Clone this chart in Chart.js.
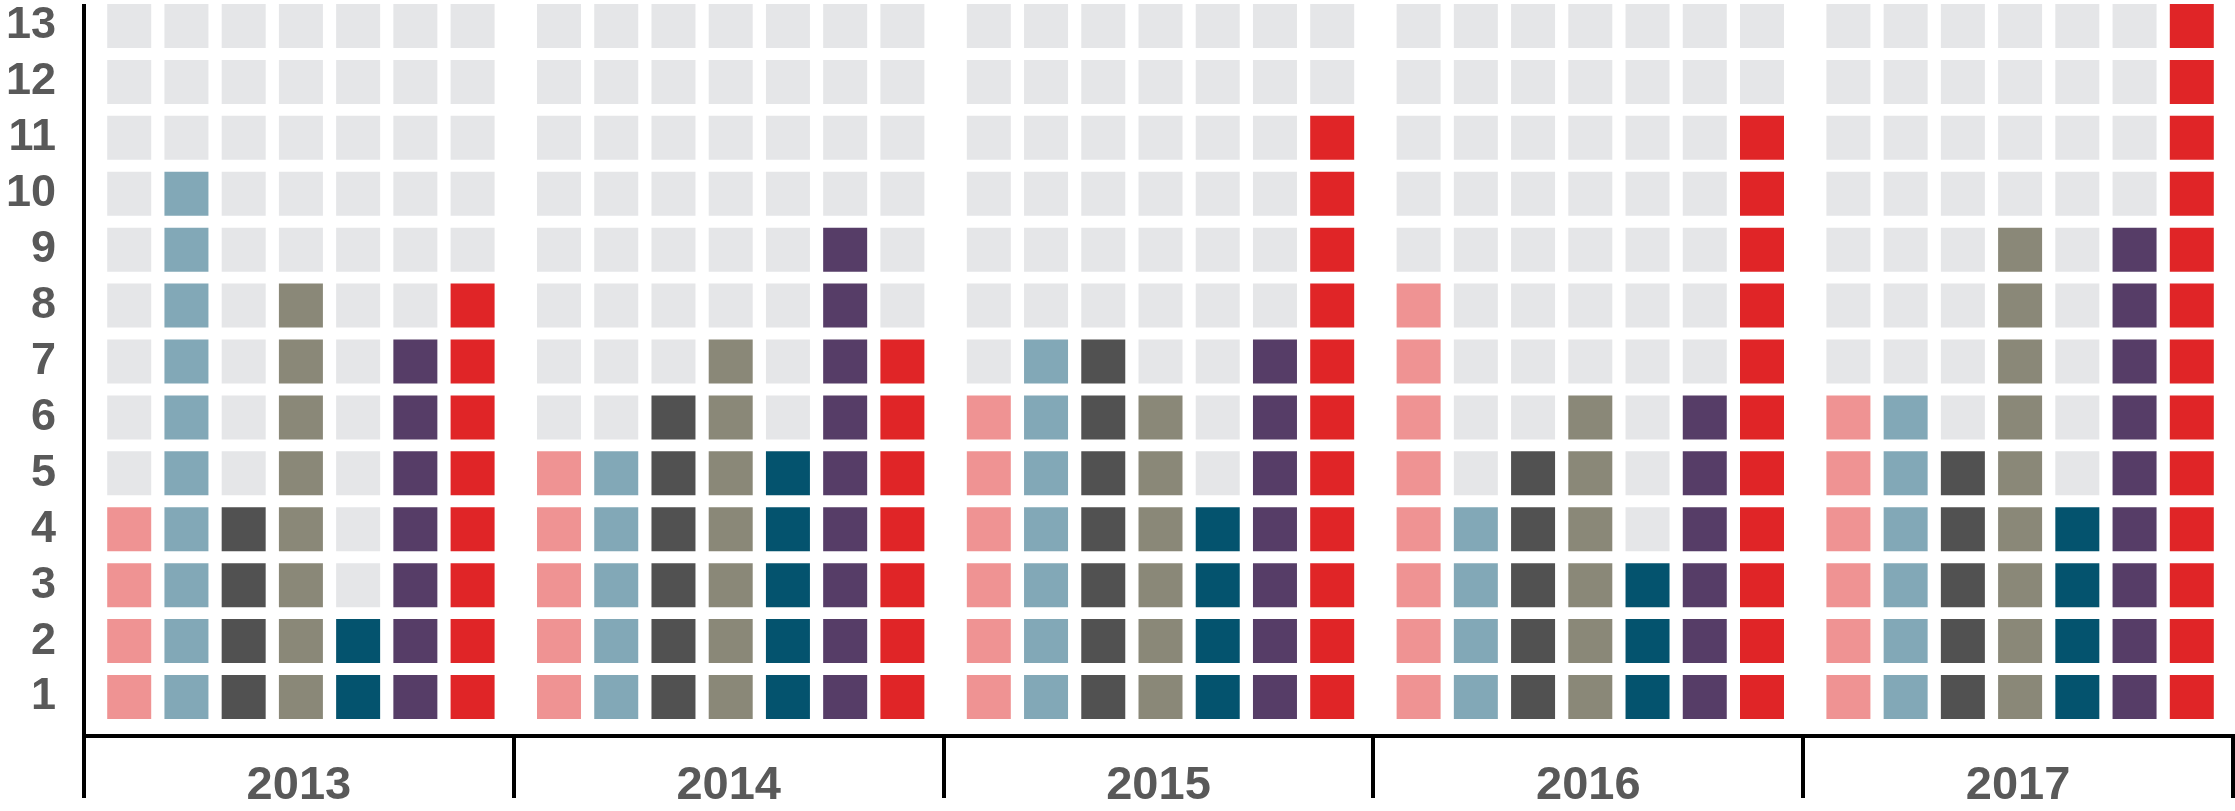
<!DOCTYPE html>
<html>
<head>
<meta charset="utf-8">
<script src="https://cdn.jsdelivr.net/npm/chart.js@4.4.1/dist/chart.umd.min.js"></script>
<style>
  html, body { margin: 0; padding: 0; background: #ffffff; overflow: hidden; }
  #wrap { width: 2235px; height: 811px; position: relative; }
</style>
</head>
<body>
<div id="wrap"><canvas id="chart"></canvas></div>
<script>
// ---------- DATA ----------
const years = ['2013', '2014', '2015', '2016', '2017'];
const rowTicks = [1, 2, 3, 4, 5, 6, 7, 8, 9, 10, 11, 12, 13];
const pinkValues     = [4, 5, 6, 8, 6];
const lightBlueValues = [10, 5, 7, 4, 6];
const darkGreyValues = [4, 6, 7, 5, 5];
const khakiValues    = [8, 7, 6, 6, 9];
const tealValues     = [2, 5, 4, 3, 4];
const purpleValues   = [7, 9, 7, 6, 9];
const redValues      = [8, 7, 11, 11, 13];

// ---------- STYLE / LAYOUT ----------
const seriesList = [pinkValues, lightBlueValues, darkGreyValues, khakiValues, tealValues, purpleValues, redValues];
const seriesColors = ['#EF9393', '#82A8B7', '#515151', '#8A8878', '#04536E', '#563D67', '#E02527'];
const emptyColor = '#E5E6E8';
const labelColor = '#595959';
const GROUP = 7.51;   // width of one year group, in column pitches
const FIRST = 0.79;   // offset of the first column centre inside a group
const MAXROW = rowTicks.length;

const colX = (g, c) => g * GROUP + FIRST + c;

const datasets = seriesList.map((vals, c) => ({
  data: vals.flatMap((v, g) => Array.from({length: v}, (_, i) => ({x: colX(g, c), y: i + 1}))),
  backgroundColor: seriesColors[c],
  pointStyle: 'rect',
  pointRadius: 31.11,
  borderWidth: 0,
  clip: false
}));
datasets.push({
  data: seriesList.flatMap((vals, c) => vals.flatMap((v, g) =>
    Array.from({length: MAXROW - v}, (_, i) => ({x: colX(g, c), y: v + i + 1})))),
  backgroundColor: emptyColor,
  pointStyle: 'rect',
  pointRadius: 31.11,
  borderWidth: 0,
  clip: false
});

new Chart(document.getElementById('chart'), {
  type: 'scatter',
  data: { datasets },
  options: {
    responsive: true,
    maintainAspectRatio: false,
    devicePixelRatio: 1,
    animation: false,
    events: [],
    layout: { autoPadding: false, padding: { top: 6, right: 2, left: 0, bottom: 0 } },
    plugins: { legend: { display: false }, tooltip: { enabled: false } },
    scales: {
      x: {
        type: 'linear',
        min: 0,
        max: GROUP * years.length,
        afterBuildTicks: s => {
          const t = [];
          for (let g = 0; g <= years.length; g++) {
            t.push({ value: g * GROUP });
            if (g < years.length) t.push({ value: g * GROUP + GROUP / 2 });
          }
          s.ticks = t;
        },
        afterFit: s => { s.height = 75; s.paddingLeft = 0; s.paddingRight = 0; },
        border: { display: true, color: '#000000', width: 4 },
        grid: {
          drawOnChartArea: false,
          drawTicks: true,
          tickLength: 62,
          lineWidth: 4,
          color: ctx => (ctx.index % 2 === 0 ? '#000000' : 'rgba(0,0,0,0)')
        },
        ticks: {
          autoSkip: false,
          maxRotation: 0,
          padding: -40,
          color: labelColor,
          font: { family: '"Liberation Sans", Arial, sans-serif', size: 47, weight: 'bold' },
          callback: (v, i) => (i % 2 === 1 ? years[(i - 1) / 2] : '')
        }
      },
      y: {
        type: 'linear',
        min: 0.303,
        max: 13.358,
        afterBuildTicks: s => { s.ticks = rowTicks.map(v => ({ value: v })); },
        afterFit: s => { s.width = 84; s.paddingTop = 0; s.paddingBottom = 0; },
        border: { display: true, color: '#000000', width: 4 },
        grid: { drawOnChartArea: false, drawTicks: false, color: 'rgba(0,0,0,0)', lineWidth: 0 },
        ticks: {
          padding: 28,
          color: labelColor,
          font: { family: '"Liberation Sans", Arial, sans-serif', size: 45, weight: 'bold' },
          callback: v => String(v)
        }
      }
    }
  }
});
</script>
</body>
</html>
